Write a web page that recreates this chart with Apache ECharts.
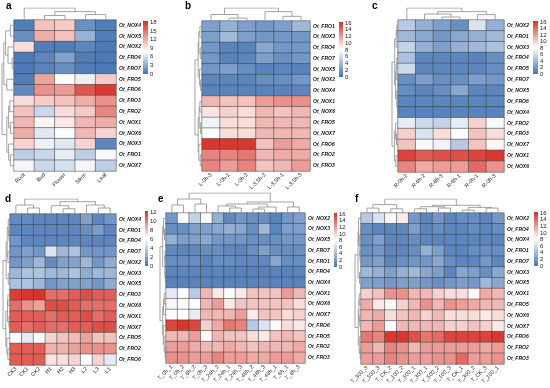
<!DOCTYPE html>
<html><head><meta charset="utf-8">
<script src="https://cdn.jsdelivr.net/npm/echarts@6/dist/echarts.min.js"></script>
<style>html,body{margin:0;padding:0;background:#fff}#c{width:550px;height:388px}</style>
</head><body><div id="c"></div>
<script>
// ---------- DATA ----------
const aCols = ['Root','Bud','Flower','Stem','Leaf'];
const aRows = ['Ot_NOX4','Ot_NOX5','Ot_NOX2','Ot_FRO4','Ot_FRO7','Ot_FRO5','Ot_FRO6','Ot_FRO3','Ot_FRO2','Ot_NOX1','Ot_NOX6','Ot_NOX3','Ot_FRO1','Ot_NOX7'];
const aVals = [
 [0.5,11,10.5,1.5,0.5],[1.5,12,11,3.5,0.5],[9.5,0.5,0.5,1,0.3],[0.3,1,2.5,0.5,0.3],[0.3,0.8,1.5,0.5,0.3],
 [0.5,12.5,7.9,7,10.5],[1.2,13.5,13,16.5,18],[9.5,10.5,11,12,13.5],[11,5.5,9.5,10.5,14],[11.5,8.3,9,11.5,12],
 [12,6.5,7.6,11.5,10],[10,7,6.5,10,1],[5,5.5,6.8,5,7.5],[7.3,5.5,6,7.3,5]];
const aColTree = [0,[[1,2,0.38],[3,4,0.45],0.7],1];
const aRowTree = [[[[0,1,0.3],[2,[3,4,0.15],0.5],0.7],[5,6,0.6],0.85],[[[7,8,0.35],[9,10,0.3],0.45],[11,[12,13,0.3],0.45],0.6],1];

const bCols = ['L-0h-3','L-0h-1','L-0h-2','L-3.5h-2','L-3.5h-1','L-3.5h-3'];
const bRows = ['Ot_FRO1','Ot_NOX3','Ot_FRO4','Ot_FRO7','Ot_NOX5','Ot_NOX2','Ot_NOX4','Ot_NOX1','Ot_NOX6','Ot_FRO5','Ot_NOX7','Ot_FRO6','Ot_FRO2','Ot_FRO3'];
const bVals = [
 [2.5,3.5,2.5,2,2.5,4],[2.5,4,2.5,2,2,2],[2,0.8,0.8,3,2,2],[2,0.8,1,2.5,1.5,2],[2,2.5,1.5,0.8,1,0.8],
 [1,1,1,1.5,1.5,2],[0.8,0.8,0.8,0.8,0.8,1],[11,10.5,10.5,12,12.5,12.5],[9.2,10,9.5,11,10.5,11],[7.5,9.5,9.5,11,11,11],
 [8.3,9.5,9.5,11,11,11],[16,16,16,10.5,12,11.5],[13,13,13.5,11,11.5,11.5],[13,12,13,10.5,11,12]];
const bColTree = [[0,[1,2,0.22],0.5],[3,[4,5,0.36],0.72],1];
const bRowTree = [[[[0,1,0.3],[2,3,0.25],0.45],[4,[5,6,0.2],0.35],0.55],[[[7,8,0.3],[9,10,0.2],0.4],[11,[12,13,0.25],0.45],0.55],1];

const cCols = ['R-0h-2','R-6h-2','R-6h-3','R-6h-1','R-0h-1','R-0h-3'];
const cRows = ['Ot_NOX2','Ot_FRO1','Ot_NOX3','Ot_FRO4','Ot_FRO5','Ot_FRO7','Ot_NOX5','Ot_FRO6','Ot_NOX4','Ot_FRO2','Ot_FRO3','Ot_NOX7','Ot_NOX1','Ot_NOX6'];
const cVals = [
 [5,3.5,2.5,1.5,6.5,3.5],[4,3,2,3,3.5,4],[5.5,3.5,2.5,3.5,4,4.5],[4.5,1,1,1,0.8,1.5],[6,1,1,1,1,1.5],
 [1.5,2.5,1.5,1.5,2.5,2],[1.5,1,1.5,3,1,1],[1,1,1,1,1,1],[0.8,0.8,0.8,0.8,0.8,0.8],[7,6,5.5,7,10,7.8],
 [10,6.5,9.5,8.2,10.5,9.5],[10.5,7.8,7.5,5,10.5,8.5],[15.5,14.5,15,15,15.5,16],[13,11.5,12,12,14,12.5]];
const cColTree = [0,[[1,[2,3,0.25],0.5],[4,5,0.45],0.7],1];
const cRowTree = [[[[0,1,0.2],2,0.3],[[[3,4,0.2],5,0.3],[6,[7,8,0.1],0.2],0.4],0.55],[[9,[10,11,0.25],0.4],[12,13,0.35],0.6],1];

const dCols = ['CK3','CK1','CK2','H1','H2','H3','L2','L3','L1'];
const dRows = ['Ot_NOX4','Ot_FRO1','Ot_FRO4','Ot_FRO7','Ot_NOX2','Ot_NOX3','Ot_NOX5','Ot_FRO3','Ot_NOX6','Ot_NOX1','Ot_NOX7','Ot_FRO5','Ot_FRO2','Ot_FRO6'];
const dVals = [
 [1,1,0.8,0.8,0.8,0.8,2,0.8,1.5],[0.8,0.8,0.8,0.8,0.8,0.8,1.2,1.8,0.8],[1.5,0.8,0.8,0.8,0.8,0.8,0.8,0.8,0.8],
 [1.5,2,1.5,5,3,3.5,1.5,1.5,1.5],[1.5,2,3,1,2,2,3,1.5,2.5],[3,3.5,3.5,3,3,3.5,2.5,3,3],[3.5,3.5,3,1.5,2,2,2,1.5,2.5],
 [12,12.2,12.3,10.5,10.5,11,11.5,11,11],[10.5,9.5,9,11.5,11.5,11,10.5,10.5,10.5],[11,11,11,10.5,11,11,11.5,10.5,11],
 [11,10.5,11,10.5,10.5,11,11,11.5,11.5],[6.2,5.3,6,7.5,8,8.3,9,8,8],[11,11,11,8.5,8.5,9,9.5,9.5,9.5],[11,11,11,7,7.2,7.5,6.2,7.5,5.3]];
const dColTree = [[0,[1,2,0.4],0.6],[[3,[4,5,0.35],0.55],[6,[7,8,0.4],0.6],0.82],1];
const dRowTree = [[[[0,[1,2,0.15],0.25],[3,4,0.3],0.4],[5,6,0.25],0.55],[[[7,8,0.3],[9,10,0.15],0.35],[11,[12,13,0.3],0.45],0.6],1];

const eCols = ['T_0h_1','T_0h_2','T_6h_2','T_0h_3','T_24h_2','T_24h_1','T_24h_3','T_48h_2','T_48h_3','T_48h_1','T_6h_1','T_6h_3'];
const eRows = ['Ot_NOX2','Ot_NOX3','Ot_NOX5','Ot_FRO7','Ot_FRO1','Ot_FRO4','Ot_NOX4','Ot_NOX1','Ot_NOX6','Ot_NOX7','Ot_FRO6','Ot_FRO5','Ot_FRO2','Ot_FRO3'];
const eVals = [
 [2,8,5.5,7.8,3.5,1.2,2,1.5,1.5,0.8,2,2.5],[1.5,1.5,2.5,2.5,3,3.5,3,1.5,4,1,2.5,2.5],[3.5,2.5,2.5,3,2,2,2,1.5,1.5,1.5,2,2],
 [1.2,1,1.2,1.5,1.5,1.2,1,1.5,2.5,1.5,1.5,1.5],[1.5,1.5,1.5,1,1.5,1.5,1.2,1.2,1.2,3,1.5,1.5],[1,1,1,0.8,1,0.8,0.8,0.8,0.8,0.8,0.8,1],
 [0.8,0.8,0.8,0.8,0.8,0.8,0.8,0.8,0.8,0.8,0.8,0.8],[7,8,5,11,9,8.3,9,10.5,10.5,10.5,12,11],[8.5,8.3,8,11,12,9,10.5,10.5,10.5,10.5,10.5,9.5],
 [8.2,8.2,7,11,11,11,12,9,10.5,10.5,9.5,10],[15.5,16,15.5,10,11.5,13.5,13,5,6.5,8.3,9.5,9],[11,11,12,8.3,11,10.5,10.5,9.5,9,10.5,11,10.5],
 [12,12,11.5,11,11,11.5,11,10.5,11,11,11,11.5],[12.5,12.5,12,12,13,12,12,11.5,11.5,12,12,11.5]];
const eColTree = [[[0,1,0.4],[2,3,0.45],0.7],[[[4,[5,6,0.25],0.35],[[7,8,0.2],9,0.3],0.45],[10,11,0.3],0.55],1];
const eRowTree = [[[0,[1,2,0.25],0.4],[[3,4,0.15],[5,6,0.1],0.2],0.55],[[[7,8,0.3],9,0.4],[10,[11,[12,13,0.15],0.3],0.45],0.55],1];

const fCols = ['T_300_3','T_500_3','T_CK_2','T_100_2','T_500_1','T_300_1','T_500_2','T_100_3','T_CK_1','T_300_2','T_CK_3','T_100_1'];
const fRows = ['Ot_NOX2','Ot_FRO4','Ot_NOX4','Ot_FRO1','Ot_FRO7','Ot_NOX3','Ot_NOX5','Ot_NOX1','Ot_FRO5','Ot_NOX6','Ot_NOX7','Ot_FRO6','Ot_FRO2','Ot_FRO3'];
const fVals = [
 [5,6.5,7.8,9,2,1,2,1,1.5,1.5,1,2],[1.5,1,1,1,2.5,1,1.5,1,1,1.5,1,1.5],[1.5,2.5,1,1,1.5,1,1,1,1,1,1,1],
 [1.5,2,1,1,1.5,3.5,2.5,1,1,1.5,1.5,1.5],[2,2.5,1,1.5,2,2,3,1.5,1,1,2,1],[4,3.5,2.5,3.5,4,3,2.5,1,3,2.5,1.5,3],
 [2.5,2.5,2,2.5,2.5,2,1.5,2,2.5,2,4,3],[10,10.5,12.5,12.5,11,11,10,9.5,9.5,8.5,11.5,11],[11.5,9,8.5,10,11,12.5,11,12.5,12,11.5,11,11],
 [11,11.5,9.5,10.5,11,10,11,9.5,9.5,9.5,9,9.5],[11,12,8,11,11,11,11,10,10,10.5,10,9],[13.5,13,16,16,15,13.5,14,15.5,15.5,15.5,15.5,16],
 [12,11,13,12.5,11,12,12,12,12,12,11.5,12],[12,12,13,12.5,12,12,12.5,12.5,14,12,12,12.5]];
const fColTree = [[[0,1,0.35],[2,3,0.3],0.6],[[[4,5,0.3],[6,7,0.35],0.45],[[8,9,0.2],[10,11,0.35],0.4],0.55],1];
const fRowTree = [[[0,[[1,2,0.1],[3,4,0.15],0.2],0.4],[5,6,0.25],0.5],[[[7,8,0.3],[9,10,0.2],0.35],[11,[12,13,0.15],0.3],0.45],1];

const cbMax = {a:18.5, b:16.3, c:16.3, d:12.4, e:16.3, f:16.3};
const cbStep = {a:3, b:2, c:2, d:2, e:2, f:2};

// ---------- LAYOUT ----------
const panels = [
 {k:'a',cols:aCols,rows:aRows,vals:aVals,ct:aColTree,rt:aRowTree,white:0.42,
  heat:[14,20,102,151],colTop:8,rowLeft:2,cb:[143,21,5,53],lab:[6,1]},
 {k:'b',cols:bCols,rows:bRows,vals:bVals,ct:bColTree,rt:bRowTree,white:0.5,
  heat:[202,21,108,150],colTop:8,rowLeft:195,cb:[339,22,4,55],lab:[185,1]},
 {k:'c',cols:cCols,rows:cRows,vals:cVals,ct:cColTree,rt:cRowTree,white:0.5,
  heat:[398,20,106,152],colTop:8,rowLeft:392,cb:[533,21,5,53],lab:[372,1]},
 {k:'d',cols:dCols,rows:dRows,vals:dVals,ct:dColTree,rt:dRowTree,white:0.5,
  heat:[10,214,106,151],colTop:199,rowLeft:3,cb:[145,211,3,55],lab:[5,194]},
 {k:'e',cols:eCols,rows:eRows,vals:eVals,ct:eColTree,rt:eRowTree,white:0.5,
  heat:[166,213,139,150],colTop:193,rowLeft:160,cb:[334,213,3,54],lab:[158,194]},
 {k:'f',cols:fCols,rows:fRows,vals:fVals,ct:fColTree,rt:fRowTree,white:0.5,
  heat:[361,213,143,151],colTop:199,rowLeft:355,cb:[534,212,4,54],lab:[355,194]}
];

const BLUE=[69,117,180], WHITE=[255,255,255], RED=[215,48,39];
function mix(a,b,t){return 'rgb('+a.map((v,i)=>Math.round(v+(b[i]-v)*t)).join(',')+')';}
function ramp(w){const out=[];const N=60;for(let i=0;i<=N;i++){const t=i/N;out.push(t<=w?mix(BLUE,WHITE,t/w):mix(WHITE,RED,(t-w)/(1-w)));}return out;}
function walk(node,segs){
  if(typeof node==='number') return {p:node,h:0};
  const L=walk(node[0],segs), R=walk(node[1],segs), h=node[2];
  segs.push([[L.p,L.h],[L.p,h],[R.p,h],[R.p,R.h]]);
  return {p:(L.p+R.p)/2,h:h};
}
const FONT='"Liberation Sans",Arial,sans-serif';
const option={animation:false,backgroundColor:'#fff',grid:[],xAxis:[],yAxis:[],series:[],visualMap:[],title:[]};
const hidden={show:false};
panels.forEach(p=>{
  const [hl,ht,hw,hh]=p.heat;
  const n=p.cols.length, m=p.rows.length, M=cbMax[p.k], step=cbStep[p.k];
  let gi=option.grid.length;
  option.grid.push({left:hl,top:ht,width:hw,height:hh,containLabel:false});
  option.xAxis.push({type:'category',gridIndex:gi,data:p.cols,axisLine:hidden,axisTick:hidden,splitLine:hidden,
    axisLabel:{interval:0,rotate:45,fontSize:5.5,margin:3,color:'#222',fontFamily:FONT}});
  option.yAxis.push({type:'category',gridIndex:gi,data:p.rows,inverse:true,position:'right',axisLine:hidden,axisTick:hidden,splitLine:hidden,
    axisLabel:{interval:0,fontSize:5,margin:3,color:'#111',fontStyle:'italic',fontWeight:'bold',fontFamily:FONT}});
  const data=[];
  p.vals.forEach((row,r)=>row.forEach((v,c)=>data.push([c,r,v])));
  const si=option.series.length;
  option.series.push({type:'heatmap',xAxisIndex:gi,yAxisIndex:gi,data:data,
    itemStyle:{borderColor:'#3c3c3c',borderWidth:0.5},emphasis:{disabled:true},silent:true});
  option.visualMap.push({type:'continuous',show:false,min:0,max:M,seriesIndex:si,inRange:{color:ramp(p.white)}});
  gi=option.grid.length;
  option.grid.push({left:hl,top:p.colTop,width:hw,height:ht-p.colTop});
  option.xAxis.push({type:'value',gridIndex:gi,min:-0.5,max:n-0.5,show:false});
  option.yAxis.push({type:'value',gridIndex:gi,min:0,max:1,show:false});
  let segs=[]; walk(p.ct,segs);
  option.series.push({type:'lines',coordinateSystem:'cartesian2d',xAxisIndex:gi,yAxisIndex:gi,polyline:true,silent:true,
    lineStyle:{color:'#8a8a8a',width:0.8,opacity:1},data:segs.map(s=>({coords:s}))});
  gi=option.grid.length;
  option.grid.push({left:p.rowLeft,top:ht,width:hl-p.rowLeft,height:hh});
  option.xAxis.push({type:'value',gridIndex:gi,min:0,max:1,inverse:true,show:false});
  option.yAxis.push({type:'value',gridIndex:gi,min:-0.5,max:m-0.5,inverse:true,show:false});
  segs=[]; walk(p.rt,segs);
  option.series.push({type:'lines',coordinateSystem:'cartesian2d',xAxisIndex:gi,yAxisIndex:gi,polyline:true,silent:true,
    lineStyle:{color:'#8a8a8a',width:0.8,opacity:1},data:segs.map(s=>({coords:s.map(q=>[q[1],q[0]])}))});
  const [cl,ct,cw,ch]=p.cb;
  gi=option.grid.length;
  option.grid.push({left:cl,top:ct,width:cw,height:ch});
  option.xAxis.push({type:'category',gridIndex:gi,data:[''],show:false});
  option.yAxis.push({type:'value',gridIndex:gi,min:0,max:M,interval:step,position:'right',axisLine:hidden,axisTick:hidden,splitLine:hidden,
    axisLabel:{fontSize:6,margin:2,color:'#222',fontFamily:FONT,formatter:v=>Math.abs(v/step-Math.round(v/step))<1e-6?String(v):''}});
  const w=p.white;
  option.series.push({type:'bar',xAxisIndex:gi,yAxisIndex:gi,data:[M],barWidth:'100%',silent:true,
    itemStyle:{color:new echarts.graphic.LinearGradient(0,0,0,1,[{offset:0,color:mix(WHITE,RED,1)},{offset:1-w,color:'rgb(255,255,255)'},{offset:1,color:mix(BLUE,WHITE,0)}])}});
  option.title.push({text:p.k,left:p.lab[0],top:p.lab[1],padding:0,textStyle:{fontSize:10,fontWeight:'bold',color:'#000',fontFamily:FONT}});
});
const chart=echarts.init(document.getElementById('c'),null,{renderer:'canvas'});
chart.setOption(option);
</script></body></html>
